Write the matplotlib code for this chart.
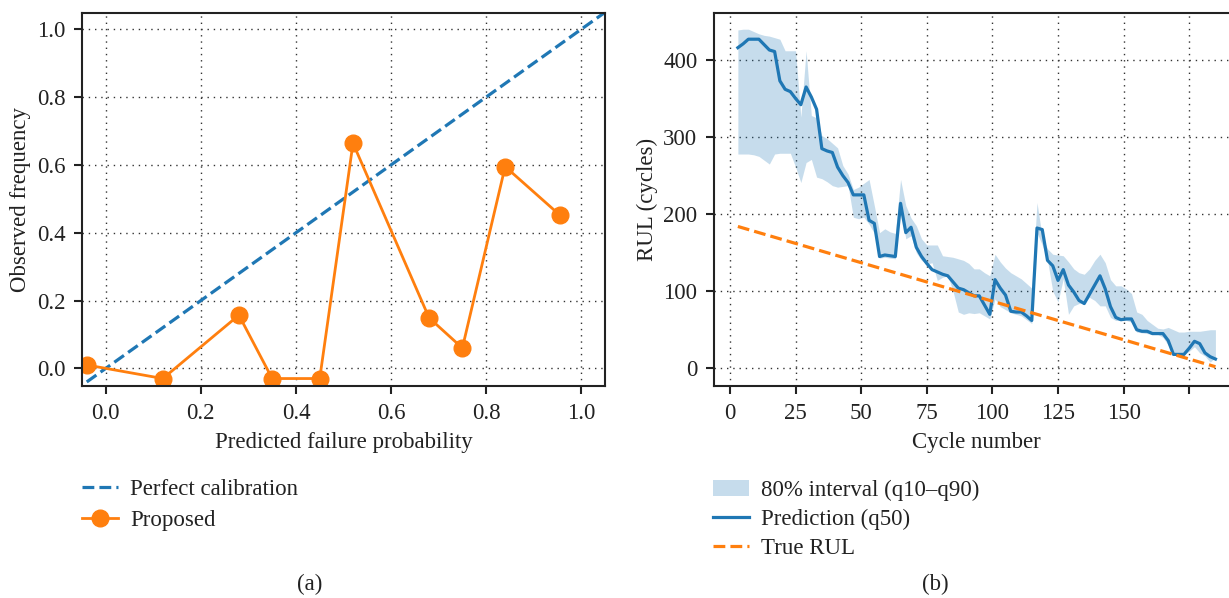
import matplotlib
matplotlib.use("Agg")
import matplotlib.pyplot as plt
import numpy as np

plt.rcParams['font.family'] = ['Liberation Serif', 'DejaVu Serif']
plt.rcParams['mathtext.fontset'] = 'dejavuserif'

# ---------------- data: panel (a) calibration ----------------
pred_prob = [-0.04, 0.12, 0.28, 0.35, 0.45, 0.52, 0.68, 0.75, 0.84, 0.955]
obs_freq = [0.01, -0.03, 0.157, -0.03, -0.03, 0.664, 0.149, 0.060, 0.595, 0.452]
diag_range = [-0.04, 1.05]

# ---------------- data: panel (b) RUL ----------------
cycles = list(range(3, 186, 2))
rul_q50 = [416, 421, 427, 427, 427, 420, 413, 411, 373, 362,
           359, 350, 342, 365, 352, 336, 285, 282, 280, 261,
           250, 241, 225, 225, 225, 192, 188, 145, 147, 146,
           145, 214, 176, 183, 157, 145, 136, 128, 125, 122,
           120, 112, 104, 102, 98, 94, 94, 82, 70, 115,
           104, 95, 74, 73, 73, 68, 62, 182, 180, 140,
           133, 114, 128, 108, 99, 88, 84, 96, 108, 120,
           103, 80, 66, 63, 64, 64, 50, 48, 48, 45,
           45, 45, 36, 18, 18, 18, 26, 35, 32, 20,
           15, 12]
rul_q90 = [439, 440, 440, 437, 434, 432, 431, 429, 427, 412,
           412, 412, 326, 412, 328, 325, 302, 298, 292, 286,
           263, 252, 232, 235, 240, 245, 211, 176, 181, 177,
           175, 245, 211, 195, 185, 168, 160, 160, 160, 146,
           145, 144, 142, 140, 136, 129, 129, 124, 120, 148,
           138, 130, 124, 120, 116, 110, 104, 215, 170, 155,
           148, 147, 146, 138, 129, 124, 122, 129, 140, 148,
           137, 115, 107, 107, 103, 97, 73, 70, 62, 57,
           52, 51, 53, 50, 47, 47, 48, 48, 48, 49,
           50, 50]
rul_q10 = [278, 278, 278, 277, 275, 270, 265, 278, 279, 279,
           279, 261, 241, 267, 271, 248, 246, 242, 237, 235,
           236, 237, 196, 194, 196, 187, 175, 143, 144, 143,
           142, 208, 168, 172, 150, 140, 135, 137, 114, 118,
           120, 100, 73, 70, 72, 71, 72, 68, 64, 90,
           80, 76, 72, 70, 68, 63, 58, 176, 160, 140,
           100, 86, 116, 70, 81, 84, 86, 92, 88, 81,
           81, 66, 62, 62, 62, 60, 47, 46, 45, 44,
           44, 40, 30, 18, 18, 18, 22, 28, 20, 16,
           8, 14]
true_rul_start = 185
rul_xticks = [0, 25, 50, 75, 100, 125, 150, 175]
rul_xticklabels = ['0', '25', '50', '75', '100', '125', '150', '']
rul_yticks = [0, 100, 200, 300, 400]

assert len(cycles) == len(rul_q50) == len(rul_q90) == len(rul_q10)
true_rul = [true_rul_start - c + 2 for c in cycles]

BLUE = '#1f77b4'
ORANGE = '#ff7f0e'
DARK = '#222222'
FS = 16.5

W, H = 1229, 598
fig = plt.figure(figsize=(W / 100, H / 100), dpi=100)

def axrect(l, r, t, b):
    return [l / W, 1 - b / H, (r - l) / W, (b - t) / H]

def style(ax):
    for s in ax.spines.values():
        s.set_linewidth(1.5)
        s.set_color(DARK)
    ax.tick_params(direction='out', length=6, width=1.5, color=DARK,
                   labelsize=FS, labelcolor=DARK, pad=6)
    ax.grid(True, color='#333333', linestyle=(0, (1, 3.5)), linewidth=1.0)
    ax.set_axisbelow(True)

leg_kw = dict(loc='upper left', bbox_transform=fig.transFigure, frameon=False,
              fontsize=FS, borderaxespad=0, borderpad=0, handlelength=1.55,
              handletextpad=0.55, labelspacing=0.42, labelcolor=DARK)

# ---------------- panel (a) ----------------
ax1 = fig.add_axes(axrect(82, 605, 13, 386))
style(ax1)
ax1.plot(diag_range, diag_range, linestyle='--', color=BLUE, lw=2.3,
         label='Perfect calibration')
ax1.plot(pred_prob, obs_freq, '-o', color=ORANGE, lw=2.0, ms=12,
         label='Proposed')
ax1.set_xlim(-0.05, 1.05)
ax1.set_ylim(-0.052, 1.048)
ax1.set_xticks([0.0, 0.2, 0.4, 0.6, 0.8, 1.0])
ax1.set_yticks([0.0, 0.2, 0.4, 0.6, 0.8, 1.0])
ax1.set_xlabel('Predicted failure probability', fontsize=FS, color=DARK, labelpad=6)
ax1.set_ylabel('Observed frequency', fontsize=FS, color=DARK, labelpad=4)
ax1.legend(bbox_to_anchor=(82 / W, 1 - 479 / H), **leg_kw)

# ---------------- panel (b) ----------------
ax2 = fig.add_axes(axrect(714, 1238, 13, 386))
style(ax2)
ax2.fill_between(cycles, rul_q10, rul_q90, color=BLUE, alpha=0.25, lw=0,
                 label='80% interval (q10–q90)')
ax2.plot(cycles, rul_q50, color=BLUE, lw=2.3, label='Prediction (q50)')
ax2.plot(cycles, true_rul, linestyle='--', color=ORANGE, lw=2.3, label='True RUL')
ax2.set_xlim(-6.1, 193.6)
ax2.set_ylim(-23, 461)
ax2.set_xticks(rul_xticks)
ax2.set_xticklabels(rul_xticklabels)
ax2.set_yticks(rul_yticks)
ax2.set_xlabel('Cycle number', fontsize=FS, color=DARK, labelpad=6)
ax2.set_ylabel('RUL (cycles)', fontsize=FS, color=DARK, labelpad=4)
ax2.legend(bbox_to_anchor=(713 / W, 1 - 480 / H), **dict(leg_kw, labelspacing=0.34))

fig.text(310 / W, 1 - 584 / H, '(a)', ha='center', va='center', fontsize=FS, color=DARK)
fig.text(935 / W, 1 - 584 / H, '(b)', ha='center', va='center', fontsize=FS, color=DARK)

fig.savefig('out.png', dpi=100)
